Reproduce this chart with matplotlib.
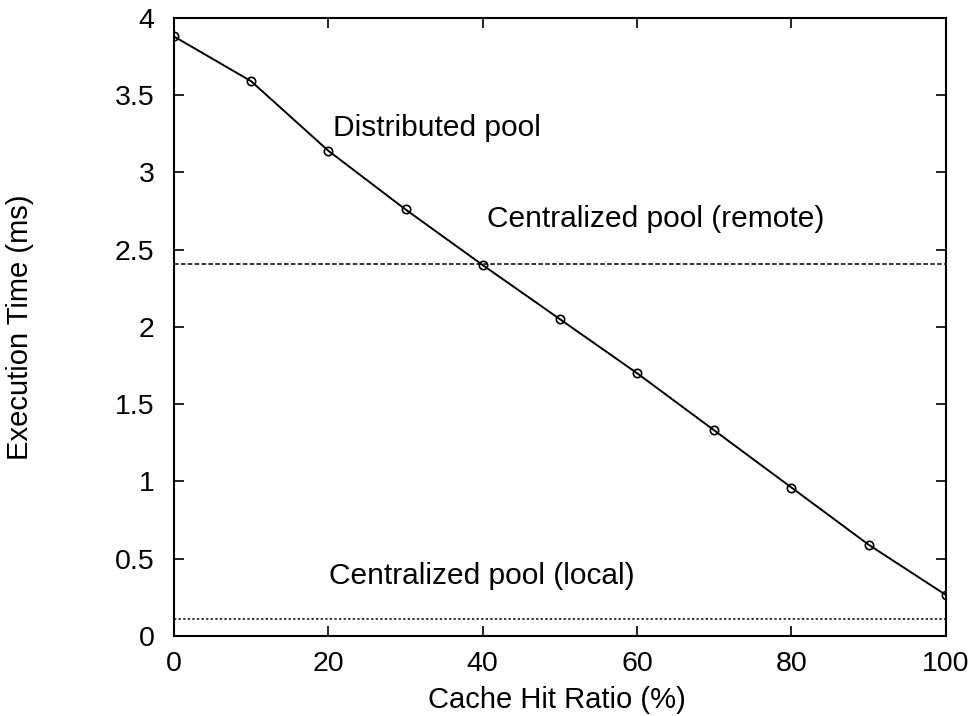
import matplotlib.pyplot as plt
import numpy as np

plt.rcParams.update({
    "font.family": ["Liberation Sans", "DejaVu Sans"],
    "font.size": 21,
    "xtick.labelsize": 20.5,
    "ytick.labelsize": 20.5,
})

# Cache hit ratio (%) and execution time (ms)
hit_ratio = [0, 10, 20, 30, 40, 50, 60, 70, 80, 90, 100]
distributed = [3.88, 3.59, 3.14, 2.76, 2.40, 2.05, 1.70, 1.33, 0.96, 0.59, 0.265]
central_remote = 2.41
central_local = 0.11

fig = plt.figure(figsize=(9.72, 7.16), dpi=100)
ax = fig.add_axes([0.179, 0.112, 0.794, 0.863])

ax.plot(hit_ratio, distributed, color="black", lw=1.4, marker="o", ms=6,
        mfc="none", mec="black", mew=1.2)
ax.axhline(central_remote, color="black", lw=1.1, ls=(0, (3, 1.5)))
ax.axhline(central_local, color="black", lw=1.1, ls=(0, (1.5, 1.5)))

ax.text(20.6, 3.29, "Distributed pool", va="center", ha="left", fontsize=21.5)
ax.text(40.6, 2.70, "Centralized pool (remote)", va="center", ha="left", fontsize=21.5)
ax.text(20.1, 0.39, "Centralized pool (local)", va="center", ha="left", fontsize=21.5)

ax.set_xlim(0, 100)
ax.set_ylim(0, 4)
ax.set_xticks(np.arange(0, 101, 20))
ax.set_yticks(np.arange(0, 4.01, 0.5))
ax.set_yticklabels(["0", "0.5", "1", "1.5", "2", "2.5", "3", "3.5", "4"])
ax.tick_params(direction="in", top=True, right=True, length=7, width=1.2)
ax.tick_params(axis="x", pad=11)
ax.tick_params(axis="y", pad=14)
for s in ax.spines.values():
    s.set_linewidth(1.5)

ax.set_xlabel("Cache Hit Ratio (%)")
ax.set_ylabel("Execution Time (ms)")
ax.xaxis.set_label_coords(0.496, -0.082)
ax.yaxis.set_label_coords(-0.182, 0.50)

fig.savefig("out.png", dpi=100)
